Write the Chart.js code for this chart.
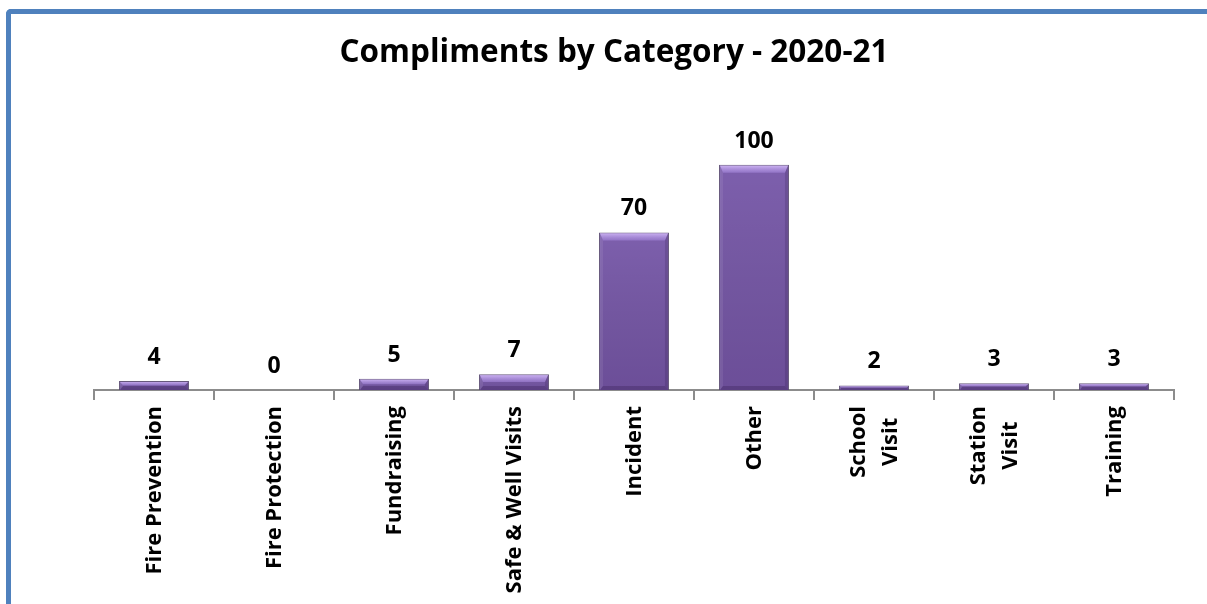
<!DOCTYPE html>
<html>
<head>
<meta charset="utf-8">
<script src="https://cdn.jsdelivr.net/npm/chart.js@4"></script>
<style>
    html, body { margin: 0; padding: 0; background: #ffffff; }
    #wrap { position: relative; width: 1207px; height: 604px; overflow: hidden; }
    #frame {
        position: absolute; left: 6px; top: 9px; width: 1300px; height: 700px;
        border-left: 5px solid #4f81bd; border-top: 5px solid #4f81bd;
        border-top-left-radius: 5px;
    }
    #chart { position: absolute; left: 0; top: 0; }
</style>
</head>
<body>
<div id="wrap">
    <div id="frame"></div>
    <canvas id="chart" width="1207" height="604"></canvas>
</div>
<script>
// Compliments 2020-21
const categories = [
    'Fire Prevention', 'Fire Protection', 'Fundraising', 'Safe & Well Visits',
    'Incident', 'Other', ['School', 'Visit'], ['Station', 'Visit'], 'Training'
];
const compliments = [4, 0, 5, 7, 70, 100, 2, 3, 3];

// bevel shading on top of each bar, like the Office 3D look
const bevelPlugin = {
    id: 'bevel',
    afterDatasetsDraw(chart) {
        const ctx = chart.ctx;
        chart.getDatasetMeta(0).data.forEach(bar => {
            const left = bar.x - bar.width / 2;
            const right = bar.x + bar.width / 2;
            const top = bar.y;
            const bottom = bar.base;
            const h = bottom - top;
            if (h < 1) return;
            const t = Math.min(8, h / 2);
            const s = Math.min(4, h / 2);

            ctx.save();
            // darker towards the bottom
            const shade = ctx.createLinearGradient(0, top, 0, bottom);
            shade.addColorStop(0, 'rgba(0,0,0,0)');
            shade.addColorStop(1, 'rgba(30,0,60,0.18)');
            ctx.fillStyle = shade;
            ctx.fillRect(left + 1, top + 1, bar.width - 2, h - 1);

            // top bevel
            const topGrad = ctx.createLinearGradient(0, top, 0, top + t);
            topGrad.addColorStop(0, 'rgba(220,195,255,0.9)');
            topGrad.addColorStop(1, 'rgba(165,135,220,0.55)');
            ctx.fillStyle = topGrad;
            ctx.beginPath();
            ctx.moveTo(left + 1, top + 1);
            ctx.lineTo(right - 1, top + 1);
            ctx.lineTo(right - s, top + t);
            ctx.lineTo(left + s, top + t);
            ctx.closePath();
            ctx.fill();

            // left side
            ctx.fillStyle = 'rgba(255,255,255,0.08)';
            ctx.beginPath();
            ctx.moveTo(left + 1, top + 1);
            ctx.lineTo(left + s, top + t);
            ctx.lineTo(left + s, bottom - s);
            ctx.lineTo(left + 1, bottom);
            ctx.closePath();
            ctx.fill();

            // right side
            ctx.fillStyle = 'rgba(20,0,40,0.15)';
            ctx.beginPath();
            ctx.moveTo(right - 1, top + 1);
            ctx.lineTo(right - s, top + t);
            ctx.lineTo(right - s, bottom - s);
            ctx.lineTo(right - 1, bottom);
            ctx.closePath();
            ctx.fill();

            // bottom
            ctx.fillStyle = 'rgba(20,0,40,0.2)';
            ctx.beginPath();
            ctx.moveTo(left + 1, bottom);
            ctx.lineTo(left + s, bottom - s);
            ctx.lineTo(right - s, bottom - s);
            ctx.lineTo(right - 1, bottom);
            ctx.closePath();
            ctx.fill();
            ctx.restore();
        });
    }
};

// value labels above the bars
const valueLabels = {
    id: 'valueLabels',
    afterDatasetsDraw(chart) {
        const ctx = chart.ctx;
        const values = chart.data.datasets[0].data;
        ctx.save();
        ctx.font = 'bold 23px "Open Sans"';
        ctx.fillStyle = '#000000';
        ctx.textAlign = 'center';
        ctx.textBaseline = 'alphabetic';
        chart.getDatasetMeta(0).data.forEach((bar, i) => {
            ctx.fillText(values[i], bar.x, bar.y - 17);
        });
        ctx.restore();
    }
};

// vertical category labels, lines centred on each other (Chart.js right-aligns them)
const categoryLabels = {
    id: 'categoryLabels',
    afterDraw(chart) {
        const ctx = chart.ctx;
        const xScale = chart.scales.x;
        const lineStep = 32;
        ctx.save();
        ctx.font = 'bold 22px "Open Sans"';
        ctx.fillStyle = '#000000';
        ctx.textBaseline = 'middle';
        ctx.textAlign = 'center';
        chart.data.labels.forEach((label, i) => {
            const lines = Array.isArray(label) ? label : [label];
            const widest = Math.max(...lines.map(l => ctx.measureText(l).width));
            const px = xScale.getPixelForValue(i);
            ctx.save();
            ctx.translate(px, xScale.top + 16);
            ctx.rotate(-Math.PI / 2);
            lines.forEach((line, j) => {
                const off = (j - (lines.length - 1) / 2) * lineStep;
                ctx.fillText(line, -widest / 2, off + 1);
            });
            ctx.restore();
        });
        ctx.restore();
    }
};

const ctx = document.getElementById('chart').getContext('2d');
new Chart(ctx, {
    type: 'bar',
    data: {
        labels: categories,
        datasets: [{
            data: compliments,
            backgroundColor: '#7d5fad',
            borderColor: 'rgba(85,70,110,0.9)',
            borderWidth: 1,
            borderSkipped: 'bottom',
            barPercentage: 0.583,
            categoryPercentage: 1
        }]
    },
    options: {
        responsive: false,
        animation: false,
        layout: {
            padding: { left: 54, right: 33, top: 0, bottom: 0 }
        },
        plugins: {
            legend: { display: false },
            tooltip: { enabled: false },
            title: {
                display: true,
                text: 'Compliments by Category - 2020-21',
                color: '#000000',
                font: { family: '"Open Sans"', size: 31.5, weight: 'bold' },
                padding: { top: 34, bottom: 48 }
            }
        },
        scales: {
            y: {
                min: 0,
                max: 120,
                grid: { display: false },
                border: { display: false },
                ticks: { display: false },
                afterFit: scale => { scale.width = 40; }
            },
            x: {
                grid: {
                    drawOnChartArea: false,
                    drawTicks: true,
                    tickLength: 10,
                    color: '#8c8c8c',
                    lineWidth: 2
                },
                border: { display: true, color: '#8c8c8c', width: 2 },
                ticks: { display: false },
                afterFit: scale => { scale.height = 214; }
            }
        }
    },
    plugins: [bevelPlugin, valueLabels, categoryLabels]
});
</script>
</body>
</html>
